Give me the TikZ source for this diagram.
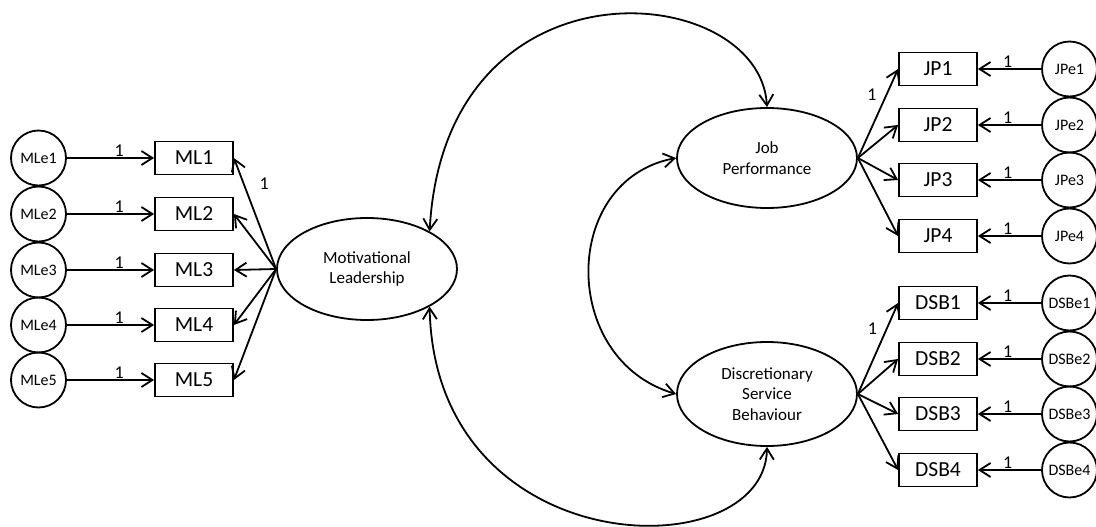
\documentclass[tikz,border=0pt]{standalone}
\usepackage{fontspec}
\setmainfont{Carlito}
\usetikzlibrary{arrows.meta,shapes.geometric}
\begin{document}
\begin{tikzpicture}[x=1pt,y=-1pt,
  line width=1.8pt,
  >={Straight Barb[length=11pt,width=14pt,line width=1.8pt]},
  obs/.style={draw, rectangle, minimum width=78pt, minimum height=33pt, inner sep=0pt,
              font=\fontsize{21.5}{23}\selectfont},
  err/.style={draw, circle, minimum size=55pt, inner sep=0pt,
              font=\fontsize{16}{18}\selectfont},
  lat/.style={draw, ellipse, minimum width=180pt, minimum height=102pt, inner sep=0pt,
              align=center, font=\fontsize{17}{20.5}\selectfont},
  one/.style={font=\fontsize{18}{20}\selectfont, inner sep=1pt},
]
\useasboundingbox (0,0) rectangle (1096,527);

% latent constructs
\node[lat] (ML)  at (367,269) {Motivational\\Leadership};
\node[lat, minimum height=100pt] (JP)  at (767,158) {Job\\Performance};
\node[lat, minimum height=104pt] (DSB) at (767,394) {Discretionary\\Service\\Behaviour};

% motivational leadership indicators and their errors
\foreach \i/\y in {1/158,2/214,3/270,4/325,5/380}{
  \node[err] (MLe\i) at (38.5,\y) {MLe\i};
  \node[obs] (ML\i)  at (194,\y) {ML\i};
  \draw[->] (MLe\i) -- node[one, above, pos=0.6] {1} (ML\i);
}
\draw[->] (ML.west) -- node[one, pos=0.77, right=14pt] {1} (ML1.east);
\foreach \i in {2,...,5}{
  \draw[->] (ML.west) -- (ML\i.east);
}

% job performance indicators and their errors
\foreach \i/\y in {1/69,2/125,3/180,4/236}{
  \node[obs] (JP\i)  at (938,\y) {JP\i};
  \node[err] (JPe\i) at (1069.5,\y) {JPe\i};
  \draw[->] (JPe\i) -- node[one, above, pos=0.53] {1} (JP\i);
}
\draw[->] (JP.east) -- node[one, pos=0.71, left=8pt] {1} (JP1.west);
\foreach \i in {2,3,4}{
  \draw[->] (JP.east) -- (JP\i.west);
}

% discretionary service behaviour indicators and their errors
\foreach \i/\y in {1/303,2/359,3/414,4/470}{
  \node[obs] (DSB\i)  at (938,\y) {DSB\i};
  \node[err] (DSBe\i) at (1069.5,\y) {DSBe\i};
  \draw[->] (DSBe\i) -- node[one, above, pos=0.53] {1} (DSB\i);
}
\draw[->] (DSB.east) -- node[one, pos=0.72, left=8pt] {1} (DSB1.west);
\foreach \i in {2,3,4}{
  \draw[->] (DSB.east) -- (DSB\i.west);
}

% covariances between the latent constructs
\draw[<->] (ML.31) .. controls (445,-50) and (760,-20) .. (JP.north);
\draw[<->] (ML.-31) .. controls (435,565) and (765,570) .. (DSB.south);
\draw[<->] (JP.west) .. controls (560,180) and (560,360) .. (DSB.west);
\end{tikzpicture}
\end{document}
